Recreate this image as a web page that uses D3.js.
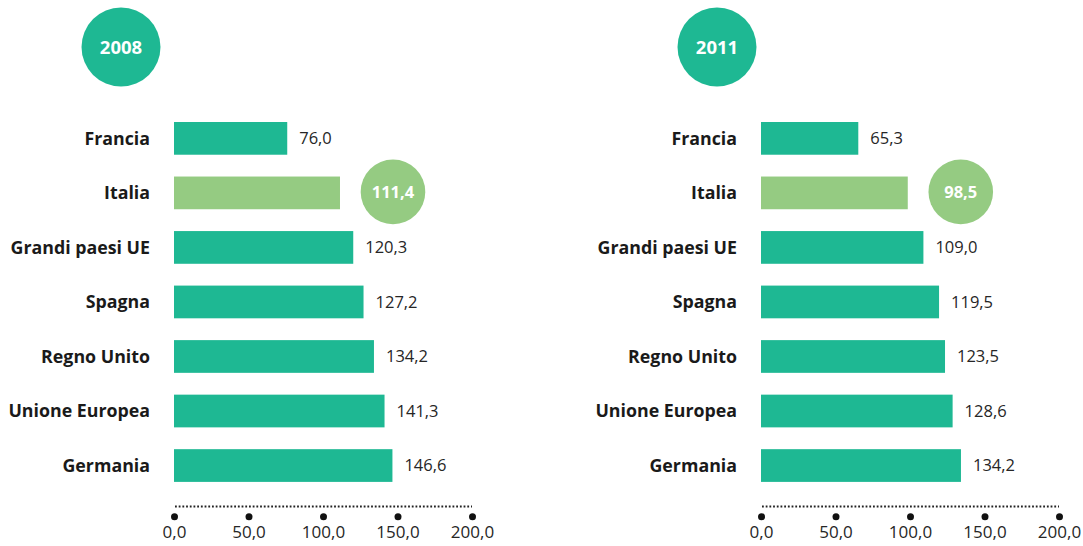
<!DOCTYPE html>
<html>
<head>
<meta charset="utf-8">
<script src="https://cdn.jsdelivr.net/npm/d3@7"></script>
<style>
  body { margin: 0; background: #fff; }
  svg { display: block; font-family: "Open Sans", sans-serif; }
</style>
</head>
<body>
<div class="chart"></div>
<script>
const categories = ["Francia", "Italia", "Grandi paesi UE", "Spagna", "Regno Unito", "Unione Europea", "Germania"];
const values2008 = [76.0, 111.4, 120.3, 127.2, 134.2, 141.3, 146.6];
const values2011 = [65.3, 98.5, 109.0, 119.5, 123.5, 128.6, 134.2];
const years = ["2008", "2011"];
const tickValues = [0, 50, 100, 150, 200];
const highlight = "Italia";

const w = 1083;
const h = 546;
const teal = "#1eb893";
const lightGreen = "#95cb82";

const it = d3.formatLocale({decimal: ",", thousands: ".", grouping: [3], currency: ["", "€"]});
const fmt = it.format(".1f");

// one panel per year
const panels = [
  {year: years[0], values: values2008, x0: 174, headX: 121},
  {year: years[1], values: values2011, x0: 761, headX: 717}
];

const svg = d3.select(".chart")
  .append("svg")
  .attr("width", w)
  .attr("height", h);

const y = d3.scaleBand()
  .domain(categories)
  .range([111.1, 492.8])
  .paddingInner(0.4)
  .paddingOuter(0.2);

panels.forEach(p => {
  const x = d3.scaleLinear().domain([0, 200]).range([p.x0, p.x0 + 298]);
  const rows = categories.map((c, i) => ({cat: c, value: p.values[i]}));
  const g = svg.append("g");

  // year bubble
  g.append("circle")
    .attr("cx", p.headX)
    .attr("cy", 47)
    .attr("r", 39.5)
    .attr("fill", teal);
  g.append("text")
    .attr("x", p.headX)
    .attr("y", 47)
    .attr("dy", "0.36em")
    .attr("text-anchor", "middle")
    .attr("fill", "#fff")
    .attr("font-weight", 700)
    .attr("font-size", 18.5)
    .text(p.year);

  // category labels
  g.selectAll(".cat")
    .data(rows)
    .enter()
    .append("text")
    .attr("class", "cat")
    .attr("x", x(0) - 24)
    .attr("y", d => y(d.cat) + y.bandwidth() / 2)
    .attr("dy", "0.36em")
    .attr("text-anchor", "end")
    .attr("fill", "#1a1a1a")
    .attr("font-weight", 700)
    .attr("font-size", 17.8)
    .text(d => d.cat);

  // bars
  g.selectAll(".bar")
    .data(rows)
    .enter()
    .append("rect")
    .attr("class", "bar")
    .attr("x", x(0))
    .attr("y", d => y(d.cat))
    .attr("width", d => x(d.value) - x(0))
    .attr("height", y.bandwidth())
    .attr("fill", d => d.cat === highlight ? lightGreen : teal);

  // value labels
  g.selectAll(".val")
    .data(rows.filter(d => d.cat !== highlight))
    .enter()
    .append("text")
    .attr("class", "val")
    .attr("x", d => x(d.value) + 12)
    .attr("y", d => y(d.cat) + y.bandwidth() / 2)
    .attr("dy", "0.36em")
    .attr("fill", "#262626")
    .attr("font-size", 16.5)
    .text(d => fmt(d.value));

  // highlighted value bubble
  const hl = rows.filter(d => d.cat === highlight);
  g.selectAll(".hl")
    .data(hl)
    .enter()
    .append("circle")
    .attr("class", "hl")
    .attr("cx", d => x(d.value) + 53)
    .attr("cy", d => y(d.cat) + y.bandwidth() / 2 - 1)
    .attr("r", 32.3)
    .attr("fill", lightGreen);
  g.selectAll(".hlt")
    .data(hl)
    .enter()
    .append("text")
    .attr("class", "hlt")
    .attr("x", d => x(d.value) + 53)
    .attr("y", d => y(d.cat) + y.bandwidth() / 2 - 1)
    .attr("dy", "0.36em")
    .attr("text-anchor", "middle")
    .attr("fill", "#fff")
    .attr("font-weight", 700)
    .attr("font-size", 16.5)
    .text(d => fmt(d.value));

  // dotted baseline
  g.append("line")
    .attr("x1", x(0) + 1)
    .attr("x2", x(200))
    .attr("y1", 506.5)
    .attr("y2", 506.5)
    .attr("stroke", "#222")
    .attr("stroke-width", 2)
    .attr("stroke-dasharray", "1.8,1.9");

  // axis
  const axis = g.append("g")
    .attr("transform", `translate(0, ${516.7})`)
    .call(d3.axisBottom(x).tickValues(tickValues).tickFormat(fmt).tickSize(0).tickPadding(9));
  axis.select(".domain").remove();
  axis.selectAll(".tick text")
    .attr("fill", "#262626")
    .attr("font-size", 17)
    .attr("font-family", "Open Sans, sans-serif");
  axis.selectAll(".tick")
    .append("circle")
    .attr("r", 3.5)
    .attr("fill", "#111");
});
</script>
</body>
</html>
